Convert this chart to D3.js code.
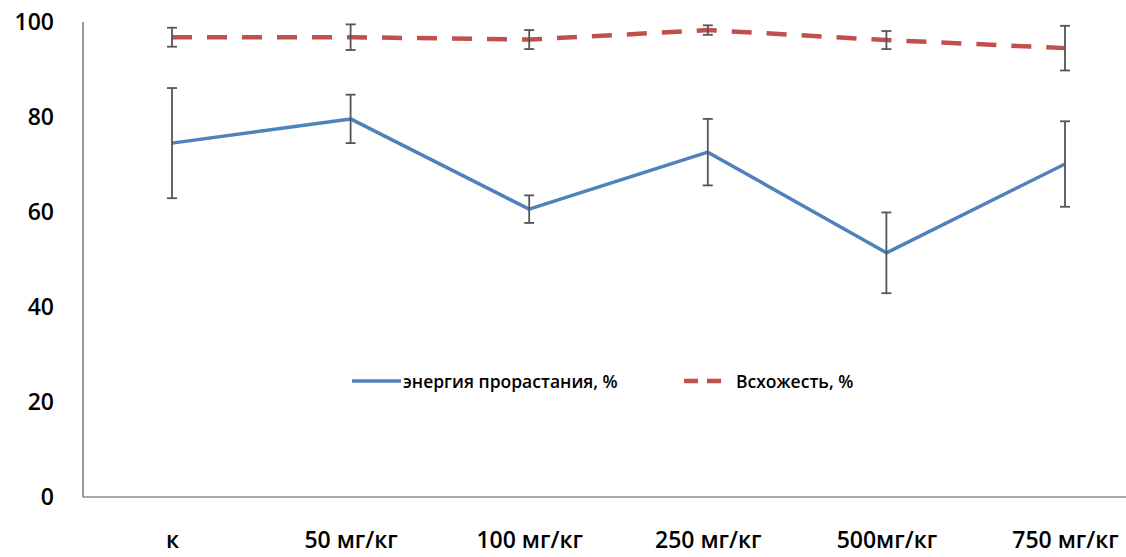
<!DOCTYPE html>
<html><head><meta charset="utf-8">
<script src="https://cdn.jsdelivr.net/npm/d3@7"></script>
<style>body{margin:0;background:#fff}svg{display:block}text{font-family:"Open Sans","Liberation Sans",sans-serif;fill:#000}</style>
</head><body><svg id="c" width="1126" height="557"></svg>
<script>
const categories = ["к","50 мг/кг","100 мг/кг","250 мг/кг","500мг/кг","750 мг/кг"];
const energyValues = [74.5, 79.6, 60.6, 72.6, 51.4, 70.1];
const energyErrors = [11.6, 5.1, 2.9, 7.0, 8.5, 9.0];
const germValues = [96.8, 96.8, 96.3, 98.3, 96.2, 94.5];
const germErrors = [2.0, 2.7, 2.0, 1.0, 1.9, 4.7];
const yTicks = [0, 20, 40, 60, 80, 100];
const seriesNames = ["энергия прорастания, %", "Всхожесть, %"];

const svg = d3.select("#c");
const x = d3.scalePoint().domain(categories).range([172, 1065]);
const y = d3.scaleLinear().domain([0, 100]).range([497, 22]);

// axes lines
svg.append("line").attr("x1",83).attr("x2",83).attr("y1",22).attr("y2",497)
  .attr("stroke","#555").attr("stroke-width",1.2);
svg.append("line").attr("x1",83).attr("x2",1126).attr("y1",497).attr("y2",497)
  .attr("stroke","#555").attr("stroke-width",1.2);

// y tick labels
const ya = svg.append("g").attr("transform","translate(54,0)")
  .call(d3.axisLeft(y).tickValues(yTicks).tickSize(0).tickPadding(0).tickFormat(d3.format("d")));
ya.select(".domain").remove();
ya.selectAll("text").attr("font-size",23).attr("font-weight",600).attr("font-family",'"Open Sans",sans-serif').attr("fill","#000");

// x tick labels
const xa = svg.append("g").attr("transform","translate(0,532)")
  .call(d3.axisBottom(x).tickSize(0).tickPadding(0));
xa.select(".domain").remove();
xa.selectAll("text").attr("font-size",23).attr("font-weight",600).attr("font-family",'"Open Sans",sans-serif').attr("fill","#000");

function drawSeries(vals, errs, color, dash){
  const data = categories.map((c,i)=>({c, v:vals[i], e:errs[i]}));
  const line = d3.line().x(d=>x(d.c)).y(d=>y(d.v));
  svg.append("path").datum(data).attr("d",line).attr("fill","none")
    .attr("stroke",color).attr("stroke-width",dash?4.5:3.5)
    .attr("stroke-dasharray",dash?"20,15":null).attr("stroke-linejoin","round");
  const g = svg.append("g");
  data.forEach(d=>{
    const cx = x(d.c);
    g.append("line").attr("x1",cx).attr("x2",cx).attr("y1",y(d.v+d.e)).attr("y2",y(d.v-d.e));
    g.append("line").attr("x1",cx-5).attr("x2",cx+5).attr("y1",y(d.v+d.e)).attr("y2",y(d.v+d.e));
    g.append("line").attr("x1",cx-5).attr("x2",cx+5).attr("y1",y(d.v-d.e)).attr("y2",y(d.v-d.e));
  });
  g.selectAll("line").attr("stroke","#555").attr("stroke-width",1.8);
}
drawSeries(germValues, germErrors, "#C0504D", true);
drawSeries(energyValues, energyErrors, "#4F81BD", false);

// legend
const lg = svg.append("g");
lg.append("line").attr("x1",352).attr("x2",401).attr("y1",381).attr("y2",381)
  .attr("stroke","#4F81BD").attr("stroke-width",3.5);
lg.append("text").attr("x",403).attr("y",388).attr("font-size",17.5).attr("font-weight",600).text(seriesNames[0]);
lg.append("line").attr("x1",684).attr("x2",724).attr("y1",381).attr("y2",381)
  .attr("stroke","#C0504D").attr("stroke-width",4.5).attr("stroke-dasharray","14,9");
lg.append("text").attr("x",736).attr("y",388).attr("font-size",17.5).attr("font-weight",600).text(seriesNames[1]);
</script></body></html>
